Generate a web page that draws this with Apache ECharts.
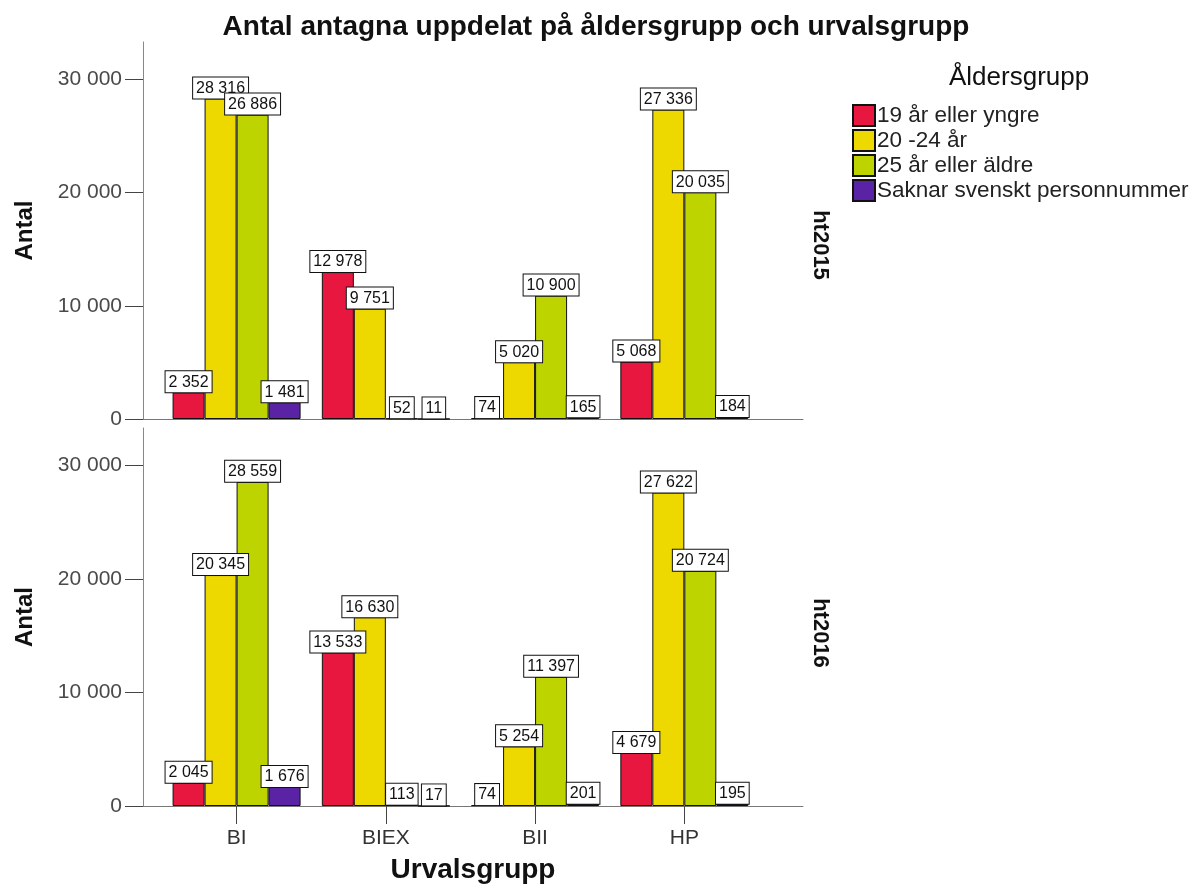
<!DOCTYPE html>
<html>
<head>
<meta charset="utf-8">
<script src="https://cdn.jsdelivr.net/npm/echarts@6/dist/echarts.min.js"></script>
<style>
  html, body { margin: 0; padding: 0; background: #fff; }
  #main { width: 1192px; height: 888px; }
</style>
</head>
<body>
<div id="main"></div>
<script type="text/javascript">
    // categories and groups
    var categories = ['BI', 'BIEX', 'BII', 'HP'];
    var groups = ['19 år eller yngre', '20 -24 år', '25 år eller äldre', 'Saknar svenskt personnummer'];
    var panels = ['ht2015', 'ht2016'];
    var yTicks = [0, 10000, 20000, 30000];

    // ht2015
    var ht2015Young = [2352, 12978, 74, 5068];
    var ht2015Mid = [28316, 9751, 5020, 27336];
    var ht2015Old = [26886, 52, 10900, 20035];
    var ht2015None = [1481, 11, 165, 184];

    // ht2016
    var ht2016Young = [2045, 13533, 74, 4679];
    var ht2016Mid = [20345, 16630, 5254, 27622];
    var ht2016Old = [28559, 113, 11397, 20724];
    var ht2016None = [1676, 17, 201, 195];

    var colors = ['#E8173F', '#EDD800', '#BDD400', '#5A22A5'];
    var font = 'Liberation Sans, Arial, sans-serif';

    function fmt(v) {
        return String(v).replace(/\B(?=(\d{3})+(?!\d))/g, ' ');
    }

    function makeSeries(name, values, color, idx) {
        return {
            type: 'bar',
            name: name,
            xAxisIndex: idx,
            yAxisIndex: idx,
            data: values.map(function (v, i) { return [i, v]; }),
            barWidth: 32,
            barGap: '0%',
            itemStyle: { color: color, borderColor: '#111', borderWidth: 1 },
            label: {
                show: true,
                position: 'top',
                distance: 0,
                formatter: function (p) { return fmt(p.value[1]); },
                backgroundColor: '#fff',
                borderColor: '#111',
                borderWidth: 1,
                padding: [3, 3, 2, 3],
                fontSize: 16,
                fontFamily: font,
                color: '#111'
            }
        };
    }

    var panelData = [
        [ht2015Young, ht2015Mid, ht2015Old, ht2015None],
        [ht2016Young, ht2016Mid, ht2016Old, ht2016None]
    ];
    var series = [];
    panelData.forEach(function (arrs, p) {
        arrs.forEach(function (vals, g) {
            series.push(makeSeries(groups[g], vals, colors[g], p));
        });
    });

    function xAxis(idx, bottom) {
        return {
            type: 'value',
            gridIndex: idx,
            min: -0.627,
            max: 3.795,
            splitLine: { show: false },
            axisLine: { show: true, onZero: false, lineStyle: { color: '#777', width: 1 } },
            axisTick: { show: bottom, customValues: [0, 1, 2, 3], length: 18, lineStyle: { color: '#444' } },
            axisLabel: {
                show: bottom,
                customValues: [0, 1, 2, 3],
                formatter: function (v) { return categories[Math.round(v)]; },
                fontSize: 21,
                fontFamily: font,
                color: '#333',
                margin: 22
            },
            name: bottom ? 'Urvalsgrupp' : '',
            nameLocation: 'middle',
            nameGap: 50,
            nameTextStyle: { fontSize: 28, fontWeight: 'bold', fontFamily: font, color: '#111' }
        };
    }

    function yAxis(idx) {
        return {
            type: 'value',
            gridIndex: idx,
            min: 0,
            max: 33300,
            interval: 10000,
            splitLine: { show: false },
            axisLine: { show: true, onZero: false, lineStyle: { color: '#888', width: 1 } },
            axisTick: { show: true, customValues: yTicks, length: 18, lineStyle: { color: '#444' } },
            axisLabel: {
                customValues: yTicks,
                formatter: fmt,
                fontSize: 21,
                fontFamily: font,
                color: '#4a4a4a',
                margin: 21
            },
            name: 'Antal',
            nameLocation: 'middle',
            nameGap: 106,
            nameTextStyle: { fontSize: 24, fontWeight: 'bold', fontFamily: font, color: '#111' }
        };
    }

    var myChart = echarts.init(document.getElementById('main'), null, { renderer: 'canvas' });

    var option = {
        backgroundColor: '#fff',
        animation: false,
        title: [
            {
                text: 'Antal antagna uppdelat på åldersgrupp och urvalsgrupp',
                left: 'center',
                top: 8,
                textStyle: { fontSize: 28, fontWeight: 'bold', fontFamily: font, color: '#111' }
            },
            {
                text: 'Åldersgrupp',
                left: 944,
                top: 60,
                textStyle: { fontSize: 26, fontWeight: 'normal', fontFamily: font, color: '#111' }
            }
        ],
        legend: {
            orient: 'vertical',
            left: 847,
            top: 99,
            itemWidth: 22,
            itemHeight: 21,
            itemGap: 2,
            selectedMode: false,
            icon: 'rect',
            data: groups,
            textStyle: { fontSize: 22.5, lineHeight: 21, fontFamily: font, color: '#222', padding: [0, 0, 0, -3] }
        },
        grid: [
            { left: 143, width: 660, top: 42, height: 377 },
            { left: 143, width: 660, top: 428, height: 378 }
        ],
        xAxis: [xAxis(0, false), xAxis(1, true)],
        yAxis: [yAxis(0), yAxis(1)],
        graphic: panels.map(function (t, i) {
            return {
                type: 'text',
                x: 820,
                y: i === 0 ? 245 : 633,
                rotation: -Math.PI / 2,
                style: {
                    text: t,
                    font: 'bold 22px ' + font,
                    fill: '#111',
                    textAlign: 'center',
                    textVerticalAlign: 'middle'
                }
            };
        }),
        series: series
    };

    myChart.setOption(option);
</script>
</body>
</html>
